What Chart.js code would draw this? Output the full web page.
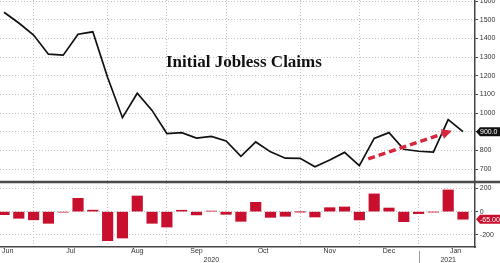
<!DOCTYPE html>
<html>
<head>
<meta charset="utf-8">
<script src="https://cdn.jsdelivr.net/npm/chart.js@4.4.0/dist/chart.umd.min.js"></script>
<style>
  html, body { margin: 0; padding: 0; background: #fff; overflow: hidden; }
  body { width: 500px; height: 263px; position: relative; }
  #wrap { position: absolute; left: 0; top: -6px; width: 500px; height: 269px; }
  #title { position: absolute; left: 166px; top: 53px; font: bold 17px "Liberation Serif", serif; line-height: 17px; color: #111; white-space: nowrap; }
</style>
</head>
<body>
<div id="wrap"><canvas id="myChart"></canvas></div>
<div id="title">Initial Jobless Claims</div>
<script>
// weekly initial claims (thousands), week ending
const weeks = ['2020-06-13','2020-06-20','2020-06-27','2020-07-04','2020-07-11','2020-07-18','2020-07-25',
  '2020-08-01','2020-08-08','2020-08-15','2020-08-22','2020-08-29','2020-09-05','2020-09-12','2020-09-19','2020-09-26',
  '2020-10-03','2020-10-10','2020-10-17','2020-10-24','2020-10-31','2020-11-07','2020-11-14','2020-11-21','2020-11-28',
  '2020-12-05','2020-12-12','2020-12-19','2020-12-26','2021-01-02','2021-01-09','2021-01-16']
const claims = [1540, 1482, 1418, 1315, 1310, 1422, 1435, 1190, 975, 1106, 1014, 890, 895, 866, 875, 850,
  768, 845, 792, 758, 757, 712, 748, 789, 718, 864, 895, 806, 795, 790, 965, 900]
const change = [-26, -57, -70, -100, -4, 114, 13, -249, -226, 134, -100, -132, 12, -28, 5, -23,
  -83, 80, -49, -40, -1, -46, 34, 40, -71, 152, 31, -86, -17, -3, 186, -65]

const monthNames = ['Jun', 'Jul', 'Aug', 'Sep', 'Oct', 'Nov', 'Dec', 'Jan']
const monthTicks = [2, 7, 11, 15, 20, 24, 28]   // week index where each month tick sits
const yearNames = ['2020', '2021']
const claimTicks = [700, 800, 900, 1000, 1100, 1200, 1300, 1400, 1500, 1600]
const changeTicks = [-200, 0, 200]
const lastClaimTag = '900.0'
const lastChangeTag = '-65.00'
// red trend arrow (week index, claims)
const arrowFrom = { x: 24.6, y: 754 }
const arrowTo = { x: 30.25, y: 905 }

// tick positions for the x axis: month boundaries (grid), month names between them, years under them
const edges = [-1.5, ...monthTicks, weeks.length + 1]
const xLabels = new Map()
monthNames.forEach((m, i) => xLabels.set((edges[i] + edges[i + 1]) / 2, m))
const yearSplit = monthTicks[monthTicks.length - 1]
xLabels.set(yearSplit / 2, ['', yearNames[0]])
xLabels.set((yearSplit + weeks.length) / 2, ['', yearNames[1]])
const xTickValues = [...monthTicks.slice(0, -1), ...xLabels.keys(), yearSplit]

const axisFont = { family: 'Liberation Sans', size: 7 }
const gridGrey = '#c2c2c2'

const extras = {
  id: 'extras',
  afterDatasetsDraw(chart) {
    const { ctx, scales: { x, yt } } = chart
    const x0 = x.getPixelForValue(arrowFrom.x), y0 = yt.getPixelForValue(arrowFrom.y)
    const x1 = x.getPixelForValue(arrowTo.x), y1 = yt.getPixelForValue(arrowTo.y)
    const len = Math.hypot(x1 - x0, y1 - y0)
    const ux = (x1 - x0) / len, uy = (y1 - y0) / len
    const head = 10
    ctx.save()
    ctx.strokeStyle = '#d7263d'
    ctx.fillStyle = '#d7263d'
    ctx.lineWidth = 3.5
    ctx.setLineDash([7, 4])
    ctx.beginPath()
    ctx.moveTo(x0, y0)
    ctx.lineTo(x1 - ux * head, y1 - uy * head)
    ctx.stroke()
    ctx.setLineDash([])
    ctx.beginPath()
    ctx.moveTo(x1, y1)
    ctx.lineTo(x1 - ux * head - uy * 5, y1 - uy * head + ux * 5)
    ctx.lineTo(x1 - ux * head + uy * 5, y1 - uy * head - ux * 5)
    ctx.closePath()
    ctx.fill()
    ctx.restore()
  },
  afterDraw(chart) {
    const { ctx, width, height, scales: { x, yt, yb } } = chart
    ctx.save()
    // pane separator
    ctx.strokeStyle = '#4a4a4a'
    ctx.lineWidth = 2.5
    ctx.beginPath()
    ctx.moveTo(0, yt.bottom)
    ctx.lineTo(width, yt.bottom)
    ctx.stroke()
    // year divider under the axis
    const xs = Math.round(x.getPixelForValue(yearSplit)) + 0.5
    ctx.strokeStyle = '#9a9a9a'
    ctx.lineWidth = 1
    ctx.beginPath()
    ctx.moveTo(xs, x.top + 4)
    ctx.lineTo(xs, height)
    ctx.stroke()
    // last value tags
    const tag = (y, text, color) => {
      const left = yt.left + 1
      ctx.fillStyle = color
      ctx.beginPath()
      ctx.moveTo(left, y)
      ctx.lineTo(left + 4, y - 4.5)
      ctx.lineTo(width, y - 4.5)
      ctx.lineTo(width, y + 4.5)
      ctx.lineTo(left + 4, y + 4.5)
      ctx.closePath()
      ctx.fill()
      ctx.fillStyle = '#fff'
      ctx.font = '7px "Liberation Sans"'
      ctx.textAlign = 'left'
      ctx.textBaseline = 'middle'
      ctx.fillText(text, left + 4, y + 0.5)
    }
    tag(yt.getPixelForValue(claims[claims.length - 1]), lastClaimTag, '#111')
    tag(yb.getPixelForValue(change[change.length - 1]), lastChangeTag, '#c8102e')
    ctx.restore()
  }
}

document.addEventListener('DOMContentLoaded', () => {
  new Chart('myChart', {
    type: 'line',
    data: {
      datasets: [{
        type: 'line',
        data: claims.map((v, i) => ({ x: i, y: v })),
        yAxisID: 'yt',
        borderColor: '#111',
        borderWidth: 1.7,
        pointRadius: 0,
        tension: 0
      }, {
        type: 'bar',
        data: change.map((v, i) => ({ x: i, y: v })),
        yAxisID: 'yb',
        backgroundColor: '#c8102e',
        barThickness: 10.5,
        borderWidth: 0
      }]
    },
    options: {
      responsive: true,
      maintainAspectRatio: false,
      animation: false,
      layout: { padding: 0 },
      plugins: { legend: { display: false }, tooltip: { enabled: false }, title: { display: false } },
      scales: {
        yt: {
          type: 'linear', position: 'right', stack: 'panes', stackWeight: 182,
          min: 630.4, max: 1605.4,
          afterBuildTicks: s => { s.ticks = claimTicks.map(v => ({ value: v })) },
          afterFit: s => { s.width = 25 },
          ticks: { autoSkip: false, callback: v => String(v), font: axisFont, color: '#333', padding: 1.8 },
          grid: { color: gridGrey, tickColor: '#444', tickLength: 3, lineWidth: 1 },
          border: { color: '#444', width: 1.5, dash: [1, 2] }
        },
        yb: {
          type: 'linear', position: 'right', stack: 'panes', stackWeight: 65,
          min: -303, max: 254,
          afterBuildTicks: s => { s.ticks = changeTicks.map(v => ({ value: v })) },
          afterFit: s => { s.width = 25 },
          ticks: { autoSkip: false, callback: v => String(v), font: axisFont, color: '#333', padding: 1.8 },
          grid: { color: gridGrey, tickColor: '#444', tickLength: 3, lineWidth: 1 },
          border: { color: '#444', width: 1.5, dash: [1, 2] }
        },
        x: {
          type: 'linear', position: 'bottom', offset: false,
          min: -0.27, max: 31.81,
          afterBuildTicks: s => { s.ticks = xTickValues.map(v => ({ value: v })) },
          afterFit: s => { s.height = 16 },
          ticks: {
            autoSkip: false, maxRotation: 0, padding: 0, font: axisFont, color: '#333',
            callback: v => xLabels.has(v) ? xLabels.get(v) : ''
          },
          grid: {
            offset: false, drawTicks: false, lineWidth: 1,
            color: c => (c.tick && monthTicks.includes(c.tick.value)) ? gridGrey : 'rgba(0,0,0,0)'
          },
          border: { color: '#444', width: 1.5, dash: [1, 2] }
        }
      }
    },
    plugins: [extras]
  })
})
</script>
</body>
</html>
